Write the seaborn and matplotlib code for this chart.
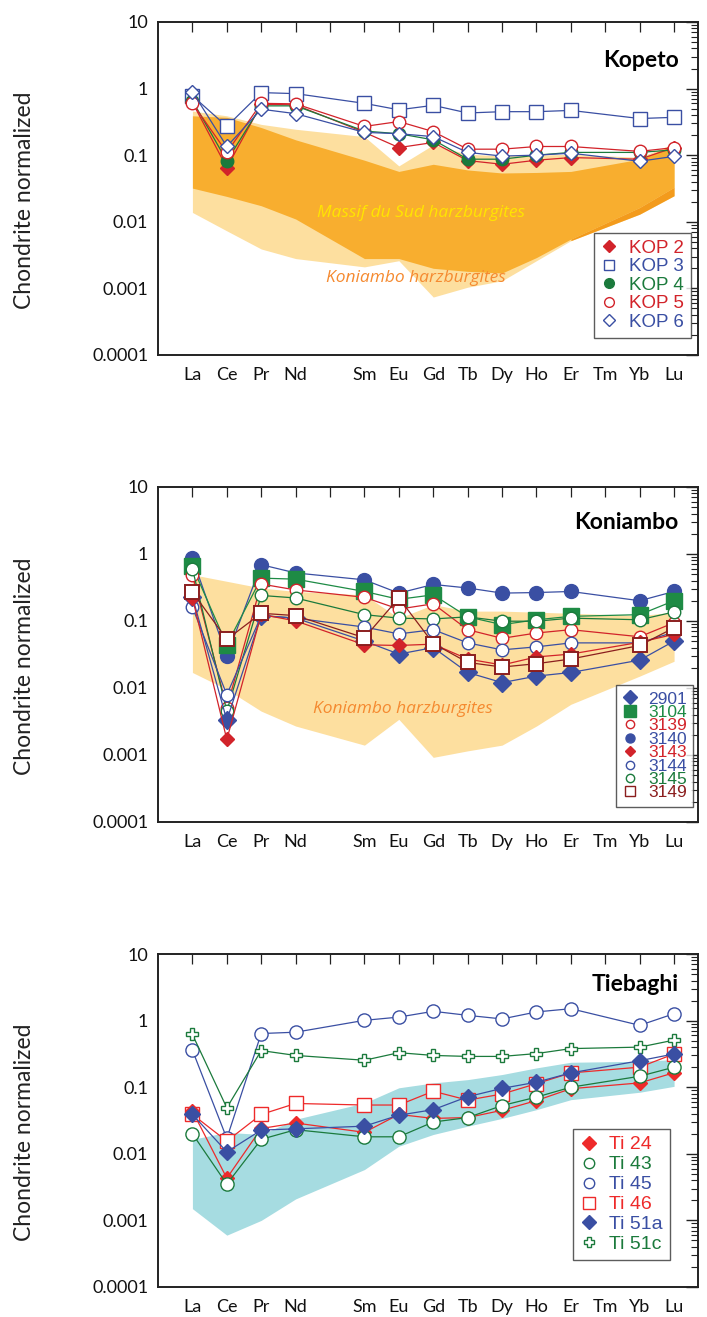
import numpy as np
import pandas as pd
import matplotlib
matplotlib.use("Agg")
import matplotlib.pyplot as plt
from matplotlib.lines import Line2D
from matplotlib.ticker import LogLocator, NullFormatter, FixedLocator
import seaborn as sns

# ---------------- data ----------------
ree_all = ["La", "Ce", "Pr", "Nd", "Pm", "Sm", "Eu", "Gd", "Tb", "Dy", "Ho", "Er", "Tm", "Yb", "Lu"]
tick_labels = ["La", "Ce", "Pr", "Nd", "", "Sm", "Eu", "Gd", "Tb", "Dy", "Ho", "Er", "Tm", "Yb", "Lu"]
elements = ["La", "Ce", "Pr", "Nd", "Sm", "Eu", "Gd", "Tb", "Dy", "Ho", "Er", "Yb", "Lu"]

# Kopeto
kop2 = [0.62, 0.065, 0.58, 0.57, 0.22, 0.13, 0.155, 0.083, 0.073, 0.084, 0.092, 0.087, 0.13]
kop3 = [0.78, 0.27, 0.87, 0.84, 0.60, 0.48, 0.56, 0.43, 0.45, 0.45, 0.47, 0.355, 0.37]
kop4 = [0.66, 0.082, 0.55, 0.55, 0.23, 0.21, 0.17, 0.087, 0.087, 0.10, 0.11, 0.11, 0.12]
kop5 = [0.60, 0.11, 0.60, 0.59, 0.27, 0.32, 0.226, 0.123, 0.123, 0.135, 0.135, 0.114, 0.13]
kop6 = [0.90, 0.135, 0.49, 0.42, 0.22, 0.21, 0.19, 0.11, 0.097, 0.10, 0.107, 0.081, 0.096]

# fields shown in the Kopeto panel
kon_field1_upper = [0.46, 0.39, 0.29, 0.245, 0.19, 0.069, 0.143, 0.103, 0.098, 0.10, 0.103, 0.093, 0.15]
kon_field1_lower = [0.0138, 0.0073, 0.0039, 0.0028, 0.0021, 0.0026, 0.00074, 0.00104, 0.0013, 0.0026, 0.0052, 0.013, 0.0246]
msd_upper = [0.39, 0.37, 0.26, 0.17, 0.084, 0.057, 0.073, 0.060, 0.054, 0.055, 0.057, 0.087, 0.143]
msd_lower = [0.032, 0.024, 0.0174, 0.011, 0.0028, 0.0028, 0.0020, 0.0018, 0.0017, 0.0029, 0.0055, 0.0164, 0.033]

# Koniambo
k2901 = [0.23, 0.0033, 0.12, 0.11, 0.050, 0.032, 0.040, 0.017, 0.012, 0.015, 0.017, 0.026, 0.050]
k3104 = [0.65, 0.044, 0.435, 0.42, 0.275, 0.21, 0.245, 0.115, 0.088, 0.104, 0.117, 0.124, 0.20]
k3139 = [0.49, 0.0051, 0.355, 0.29, 0.225, 0.15, 0.18, 0.074, 0.055, 0.066, 0.074, 0.058, 0.094]
k3140 = [0.86, 0.030, 0.69, 0.52, 0.41, 0.26, 0.35, 0.31, 0.26, 0.265, 0.275, 0.20, 0.275]
k3143 = [0.22, 0.0017, 0.125, 0.10, 0.044, 0.043, 0.045, 0.027, 0.022, 0.029, 0.032, 0.048, 0.063]
k3144 = [0.16, 0.0079, 0.12, 0.11, 0.081, 0.064, 0.074, 0.047, 0.037, 0.041, 0.047, 0.047, 0.068]
k3145 = [0.60, 0.0045, 0.24, 0.22, 0.124, 0.11, 0.107, 0.115, 0.099, 0.099, 0.11, 0.104, 0.136]
k3149 = [0.27, 0.053, 0.13, 0.12, 0.056, 0.22, 0.046, 0.024, 0.0205, 0.023, 0.027, 0.043, 0.079]

kon_field2_upper = [0.49, 0.39, 0.31, 0.275, 0.245, 0.11, 0.175, 0.14, 0.14, 0.135, 0.13, 0.12, 0.135]
kon_field2_lower = [0.017, 0.0095, 0.0045, 0.0027, 0.0014, 0.0034, 0.00092, 0.00115, 0.0014, 0.0027, 0.0057, 0.015, 0.025]

# Tiebaghi
ti24 = [0.044, 0.0043, 0.024, 0.029, 0.021, 0.039, 0.034, 0.035, 0.045, 0.063, 0.095, 0.116, 0.165]
ti43 = [0.020, 0.0035, 0.0165, 0.023, 0.018, 0.018, 0.030, 0.035, 0.053, 0.071, 0.10, 0.146, 0.20]
ti45 = [0.36, 0.017, 0.64, 0.67, 1.01, 1.13, 1.38, 1.20, 1.06, 1.35, 1.51, 0.85, 1.27]
ti46 = [0.039, 0.0155, 0.039, 0.057, 0.054, 0.054, 0.087, 0.064, 0.079, 0.113, 0.164, 0.20, 0.316]
ti51a = [0.039, 0.0107, 0.0227, 0.0237, 0.026, 0.038, 0.046, 0.072, 0.096, 0.119, 0.164, 0.25, 0.316]
ti51c = [0.62, 0.049, 0.355, 0.30, 0.254, 0.33, 0.30, 0.29, 0.29, 0.32, 0.38, 0.40, 0.51]

tie_field_upper = [0.0165, 0.021, 0.0195, 0.033, 0.058, 0.098, 0.116, 0.13, 0.155, 0.195, 0.237, 0.245, 0.26]
tie_field_lower = [0.0015, 0.0006, 0.0010, 0.0021, 0.0058, 0.013, 0.0195, 0.026, 0.034, 0.046, 0.065, 0.084, 0.103]

# ---------------- style ----------------
sns.set_theme(style="white")
plt.rcParams["font.family"] = ["Lato", "DejaVu Sans"]

RED = "#D2232A"
BLUE = "#3A4FA3"
GREEN = "#1B7A3C"
GREEN2 = "#1E8B45"
DRED = "#8B1E1E"
TRED = "#EE2A2A"

xpos = np.array([ree_all.index(e) + 1 for e in elements], dtype=float)

fig = plt.figure(figsize=(7.07, 13.17), dpi=100)
axes = [
    fig.add_axes([0.2235, 0.7305, 0.764, 0.2528]),
    fig.add_axes([0.2235, 0.3759, 0.764, 0.2544]),
    fig.add_axes([0.2235, 0.0228, 0.764, 0.2528]),
]


def setup_axis(ax):
    ax.set_yscale("log")
    ax.set_ylim(1e-4, 10)
    ax.set_xlim(0, 15.7)
    ax.xaxis.set_major_locator(FixedLocator(np.arange(1, 16)))
    ax.set_xticklabels(tick_labels, fontsize=13)
    ax.yaxis.set_major_locator(FixedLocator([1e-4, 1e-3, 1e-2, 1e-1, 1, 10]))
    ax.set_yticklabels(["0.0001", "0.001", "0.01", "0.1", "1", "10"], fontsize=13)
    ax.yaxis.set_minor_locator(LogLocator(base=10, subs=np.arange(2, 10)))
    ax.yaxis.set_minor_formatter(NullFormatter())
    ax.tick_params(axis="both", which="both", direction="in", top=True, right=True,
                   colors="#222222", labelcolor="#111111")
    ax.tick_params(axis="y", which="major", length=9, width=1.0, pad=7)
    ax.tick_params(axis="y", which="minor", length=5, width=0.8)
    ax.tick_params(axis="x", which="major", length=7, width=0.9, pad=9)
    for s in ax.spines.values():
        s.set_color("#222222")
        s.set_linewidth(1.4)
    ax.set_ylabel("Chondrite normalized", fontsize=16.5, color="#222222")
    ax.yaxis.set_label_coords(-0.228, 0.465)
    ax.grid(False)


def draw(ax, y, marker, ms, fc, ec, lc, mew=1.0, lw=0.9, z=3):
    sns.lineplot(x=xpos, y=np.array(y), ax=ax, marker=marker, markersize=ms,
                 markerfacecolor=fc, markeredgecolor=ec, markeredgewidth=mew,
                 color=lc, linewidth=lw, zorder=z, legend=False)


def make_legend(ax, entries, anchor, fs, spacing):
    handles = [Line2D([], [], linestyle="none", marker=m, markersize=s,
                      markerfacecolor=fc, markeredgecolor=ec, markeredgewidth=1.0)
               for (_, m, s, fc, ec, _) in entries]
    labels = [e[0] for e in entries]
    leg = ax.legend(handles, labels, loc="lower right", bbox_to_anchor=anchor,
                    bbox_transform=ax.transAxes, borderaxespad=0,
                    frameon=True, fancybox=False, handlelength=0.9, handletextpad=0.6,
                    labelspacing=spacing, borderpad=0.35,
                    prop={"family": ["Liberation Sans", "DejaVu Sans"], "size": fs})
    leg.get_frame().set_edgecolor("#333333")
    leg.get_frame().set_linewidth(1.0)
    for t, e in zip(leg.get_texts(), entries):
        t.set_color(e[5])
    leg.set_zorder(10)


# ---------------- panel 1: Kopeto ----------------
ax = axes[0]
setup_axis(ax)
ax.fill_between(xpos, kon_field1_lower, kon_field1_upper, color="#FDDF9F", lw=0, zorder=1)
ax.fill_between(xpos, msd_lower, msd_upper, color="#F8AE2F", lw=0, zorder=1.5)
sel = xpos >= 12
ax.fill_between(xpos[sel], np.array(kon_field1_lower)[sel], np.array(msd_lower)[sel],
                color="#F39B1C", lw=0, zorder=1.6)
ax.text(7.63, 0.0134, "Massif du Sud harzburgites", color="#FFE500", style="italic",
        fontsize=12.5, ha="center", va="center", zorder=2,
        family=["Open Sans", "DejaVu Sans"])
ax.text(7.5, 0.00145, "Koniambo harzburgites", color="#F58A30", style="italic",
        fontsize=12.5, ha="center", va="center", zorder=2,
        family=["Open Sans", "DejaVu Sans"])

draw(ax, kop3, "s", 10, "white", BLUE, BLUE)
draw(ax, kop2, "D", 7, RED, RED, RED)
draw(ax, kop4, "o", 9, GREEN, GREEN, GREEN)
draw(ax, kop5, "o", 9, "white", RED, RED)
draw(ax, kop6, "D", 7.5, "white", BLUE, BLUE)
ax.text(0.964, 0.883, "Kopeto", transform=ax.transAxes, ha="right", va="center",
        fontsize=16.5, fontweight="bold", color="black")
make_legend(ax, [
    ("KOP 2", "D", 6, RED, RED, RED),
    ("KOP 3", "s", 7, "white", BLUE, BLUE),
    ("KOP 4", "o", 7, GREEN, GREEN, GREEN),
    ("KOP 5", "o", 7, "white", RED, RED),
    ("KOP 6", "D", 6, "white", BLUE, BLUE),
], (0.986, 0.052), 13.5, 0.08)

# ---------------- panel 2: Koniambo ----------------
ax = axes[1]
setup_axis(ax)
ax.fill_between(xpos, kon_field2_lower, kon_field2_upper, color="#FDDF9F", lw=0, zorder=1)
ax.text(7.12, 0.0048, "Koniambo harzburgites", color="#F58A30", style="italic",
        fontsize=12.5, ha="center", va="center", zorder=2,
        family=["Open Sans", "DejaVu Sans"])
draw(ax, k3140, "o", 10, BLUE, BLUE, BLUE)
draw(ax, k3104, "s", 12, GREEN2, GREEN2, GREEN2)
draw(ax, k3139, "o", 9, "white", RED, RED)
draw(ax, k3145, "o", 9, "white", GREEN, GREEN)
draw(ax, k3144, "o", 9, "white", BLUE, BLUE)
draw(ax, k2901, "D", 9, BLUE, BLUE, BLUE)
draw(ax, k3143, "D", 7.5, RED, RED, RED)
draw(ax, k3149, "s", 9.5, "white", DRED, DRED, mew=1.4)
ax.text(0.964, 0.895, "Koniambo", transform=ax.transAxes, ha="right", va="center",
        fontsize=16.5, fontweight="bold", color="black")
make_legend(ax, [
    ("2901", "D", 7, BLUE, BLUE, BLUE),
    ("3104", "s", 8, GREEN2, GREEN2, GREEN2),
    ("3139", "o", 6, "white", RED, RED),
    ("3140", "o", 6.5, BLUE, BLUE, BLUE),
    ("3143", "D", 5.5, RED, RED, RED),
    ("3144", "o", 6, "white", BLUE, BLUE),
    ("3145", "o", 6, "white", GREEN, GREEN),
    ("3149", "s", 6.5, "white", DRED, DRED),
], (0.99, 0.046), 12.5, -0.1)

# ---------------- panel 3: Tiebaghi ----------------
ax = axes[2]
setup_axis(ax)
ax.fill_between(xpos, tie_field_lower, tie_field_upper, color="#A6DCE1", lw=0, zorder=1)
draw(ax, ti45, "o", 9.5, "white", BLUE, BLUE)
draw(ax, ti51c, "P", 9, "white", GREEN, GREEN)
draw(ax, ti46, "s", 9.5, "white", TRED, TRED)
draw(ax, ti24, "D", 7, TRED, TRED, TRED)
draw(ax, ti43, "o", 9.5, "white", GREEN, GREEN)
draw(ax, ti51a, "D", 8.5, BLUE, BLUE, BLUE)
ax.text(0.964, 0.907, "Tiebaghi", transform=ax.transAxes, ha="right", va="center",
        fontsize=16.5, fontweight="bold", color="black")
make_legend(ax, [
    ("Ti 24", "D", 7, TRED, TRED, TRED),
    ("Ti 43", "o", 7.5, "white", GREEN, GREEN),
    ("Ti 45", "o", 7.5, "white", BLUE, BLUE),
    ("Ti 46", "s", 8, "white", TRED, TRED),
    ("Ti 51a", "D", 7, BLUE, BLUE, BLUE),
    ("Ti 51c", "P", 7.5, "white", GREEN, GREEN),
], (0.947, 0.081), 14, 0.12)

fig.savefig("out.png", dpi=100)
